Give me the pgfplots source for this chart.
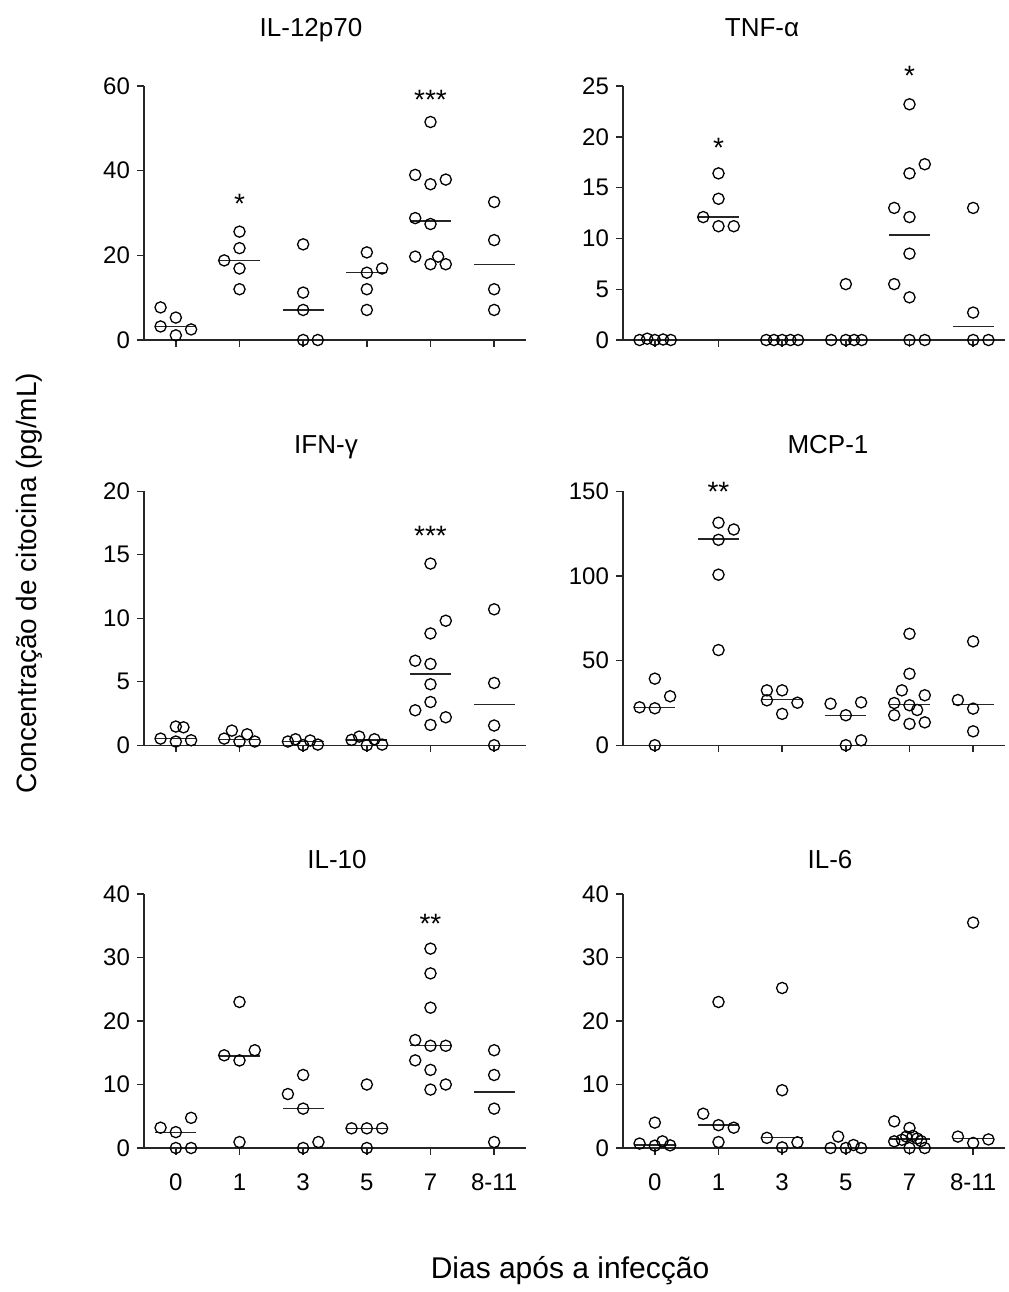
\documentclass[border=0pt]{standalone}
\usepackage{fontspec}
\setmainfont{Liberation Sans}
\usepackage{pgfplots}
\pgfplotsset{compat=1.18}

\pgfplotsset{
  panel/.style={
    scale only axis, width=191pt, height=127pt,
    anchor=south west,
    xmin=-0.5, xmax=5.5, ymin=0,
    axis x line=bottom, axis y line=left,
    axis line style={-, black!85, line width=0.7pt},
    x axis line style={shorten <=-3.5pt},
    xtick={0,...,5}, xticklabels={},
    tick align=outside, major tick length=3.5pt,
    tick style={black!85, line width=0.7pt},
    clip=false,
    ticklabel style={font=\fontsize{12}{14}\selectfont},
    xticklabel style={yshift=-6pt},
    /pgf/number format/assume math mode=true,
  },
  dots/.style={only marks, mark=o, mark size=2.8pt,
    mark options={line width=0.65pt, black}},
  med/.style={black!85, line width=0.7pt, no marks, unbounded coords=jump},
}
\tikzset{sig/.style={font=\fontsize{14}{16}\selectfont, yshift=-2.5pt}}

\begin{document}
\begin{tikzpicture}
\useasboundingbox (0pt,0pt) rectangle (504pt,-646pt);

% IL-12p70
\begin{axis}[panel, at={(72pt,-170pt)}, ymax=60, ytick={0,20,40,60}]
\addplot[dots] coordinates {
  (-0.24,7.7) (0,5.3) (-0.24,3.2) (0.24,2.5) (0,1.1)
  (1,25.6) (1,21.7) (0.76,18.8) (1,16.9) (1,12.0)
  (2,22.6) (2,11.2) (2,7.1) (2,0) (2.23,0)
  (3,20.7) (3,15.9) (3.24,16.9) (3,12.0) (3,7.1)
  (4,51.5) (3.76,39.0) (4,36.8) (4.24,37.9) (3.76,28.8) (4,27.4)
  (3.76,19.7) (4.12,19.7) (4,17.9) (4.24,17.9)
  (5,32.6) (5,23.6) (5,12.0) (5,7.1)
};
\addplot[med] coordinates {
  (-0.32,3.2) (0.32,3.2) (0.5,nan)
  (0.68,18.8) (1.32,18.8) (1.5,nan)
  (1.68,7.1) (2.32,7.1) (2.5,nan)
  (2.68,15.9) (3.32,15.9) (3.5,nan)
  (3.68,28.1) (4.32,28.1) (4.5,nan)
  (4.68,17.9) (5.32,17.9)
};
\node[sig] at (axis cs:1,33.4) {*};
\node[sig] at (axis cs:4,57.8) {***};
\end{axis}

% TNF-alpha
\begin{axis}[panel, at={(311.5pt,-170pt)}, ymax=25, ytick={0,5,...,25}]
\addplot[dots] coordinates {
  (-0.24,0) (-0.12,0.13) (0,0) (0.13,0.05) (0.25,0)
  (1,16.4) (1,13.9) (0.76,12.1) (1,11.2) (1.24,11.2)
  (1.75,0) (1.87,0) (2,0) (2.13,0) (2.25,0)
  (3,5.5) (2.77,0) (3,0) (3.13,0) (3.25,0)
  (4,23.2) (4,16.4) (4.24,17.3) (3.76,13.0) (4,12.1) (4,8.5)
  (3.76,5.5) (4,4.2) (4,0) (4.24,0)
  (5,13.0) (5,2.7) (5,0) (5.24,0)
};
\addplot[med] coordinates {
  (-0.32,0) (0.32,0) (0.5,nan)
  (0.68,12.1) (1.32,12.1) (1.5,nan)
  (1.68,0) (2.32,0) (2.5,nan)
  (2.68,0) (3.32,0) (3.5,nan)
  (3.68,10.35) (4.32,10.35) (4.5,nan)
  (4.68,1.35) (5.32,1.35)
};
\node[sig] at (axis cs:1,19.4) {*};
\node[sig] at (axis cs:4,26.5) {*};
\end{axis}

% IFN-gamma
\begin{axis}[panel, at={(72pt,-372.6pt)}, ymax=20, ytick={0,5,...,20}]
\addplot[dots] coordinates {
  (-0.24,0.52) (0,1.47) (0.12,1.41) (0,0.29) (0.24,0.39)
  (0.76,0.52) (0.88,1.15) (1.12,0.86) (1,0.29) (1.24,0.29)
  (1.76,0.29) (1.88,0.47) (2,0) (2.11,0.37) (2.23,0.05)
  (2.76,0.42) (2.88,0.68) (3,0) (3.12,0.47) (3.24,0.05)
  (4,14.3) (4.24,9.8) (4,8.8) (3.76,6.65) (4,6.4) (4,4.8)
  (4,3.4) (3.76,2.75) (4.24,2.2) (4,1.6)
  (5,10.7) (5,4.9) (5,1.55) (5,0)
};
\addplot[med] coordinates {
  (-0.32,0.52) (0.32,0.52) (0.5,nan)
  (0.68,0.45) (1.32,0.45) (1.5,nan)
  (1.68,0.3) (2.32,0.3) (2.5,nan)
  (2.68,0.4) (3.32,0.4) (3.5,nan)
  (3.68,5.6) (4.32,5.6) (4.5,nan)
  (4.68,3.2) (5.32,3.2)
};
\node[sig] at (axis cs:4,16.9) {***};
\end{axis}

% MCP-1
\begin{axis}[panel, at={(311.5pt,-372.6pt)}, ymax=150, ytick={0,50,100,150}]
\addplot[dots] coordinates {
  (0,39.3) (0.24,28.9) (-0.24,22.4) (0,21.8) (0,0)
  (1,131.4) (1.24,127.4) (1,121.3) (1,100.7) (1,56.2)
  (1.76,32.4) (2,32.4) (1.76,26.5) (2.24,25.1) (2,18.5)
  (2.76,24.5) (3.24,25.3) (3,17.7) (3.24,2.9) (3,0)
  (4,65.8) (4,42.2) (3.88,32.4) (4.24,29.5) (3.76,24.9) (4,23.6)
  (4.12,20.8) (3.76,17.7) (4,12.6) (4.24,13.5)
  (5,61.3) (4.76,26.7) (5,21.6) (5,8.2)
};
\addplot[med] coordinates {
  (-0.32,22.4) (0.32,22.4) (0.5,nan)
  (0.68,121.7) (1.32,121.7) (1.5,nan)
  (1.68,26.9) (2.32,26.9) (2.5,nan)
  (2.68,17.7) (3.32,17.7) (3.5,nan)
  (3.68,24.2) (4.32,24.2) (4.5,nan)
  (4.68,24.2) (5.32,24.2)
};
\node[sig] at (axis cs:1,152.4) {**};
\end{axis}

% IL-10
\begin{axis}[panel, at={(72pt,-574pt)}, ymax=40, ytick={0,10,...,40},
  xticklabels={0,1,3,5,7,8-11}]
\addplot[dots] coordinates {
  (-0.24,3.2) (0,2.5) (0.24,4.75) (0,0) (0.24,0)
  (1,23.0) (0.76,14.6) (1.24,15.4) (1,13.8) (1,0.94)
  (2,11.5) (1.76,8.5) (2,6.2) (2,0) (2.24,0.94)
  (3,10.0) (2.76,3.1) (3,3.1) (3.24,3.1) (3,0)
  (4,31.4) (4,27.5) (4,22.1) (3.76,17.0) (4,16.1) (4.24,16.1)
  (3.76,13.8) (4,12.3) (4,9.2) (4.24,10.0)
  (5,15.4) (5,11.5) (5,6.2) (5,0.94)
};
\addplot[med] coordinates {
  (-0.32,2.45) (0.32,2.45) (0.5,nan)
  (0.68,14.5) (1.32,14.5) (1.5,nan)
  (1.68,6.2) (2.32,6.2) (2.5,nan)
  (2.68,3.1) (3.32,3.1) (3.5,nan)
  (3.68,16.1) (4.32,16.1) (4.5,nan)
  (4.68,8.8) (5.32,8.8)
};
\node[sig] at (axis cs:4,36.1) {**};
\end{axis}

% IL-6
\begin{axis}[panel, at={(311.5pt,-574pt)}, ymax=40, ytick={0,10,...,40},
  xticklabels={0,1,3,5,7,8-11}]
\addplot[dots] coordinates {
  (0,4.0) (-0.24,0.7) (0,0.37) (0.12,1.05) (0.24,0.42)
  (1,23.0) (0.76,5.4) (1,3.6) (1.24,3.2) (1,0.94)
  (2,25.2) (2,9.1) (1.76,1.6) (2,0.1) (2.24,0.9)
  (2.88,1.8) (2.76,0) (3,0) (3.12,0.47) (3.24,0)
  (3.76,4.2) (4,3.15) (3.76,1.05) (3.88,1.3) (3.95,1.8) (4.05,1.9)
  (4.12,1.5) (4.18,1.1) (4,0) (4.24,0)
  (5,35.5) (4.76,1.8) (5,0.8) (5.24,1.35)
};
\addplot[med] coordinates {
  (-0.32,0.5) (0.32,0.5) (0.5,nan)
  (0.68,3.6) (1.32,3.6) (1.5,nan)
  (1.68,1.7) (2.32,1.7) (2.5,nan)
  (2.68,0) (3.32,0) (3.5,nan)
  (3.68,1.45) (4.32,1.45) (4.5,nan)
  (4.68,1.5) (5.32,1.5)
};
\end{axis}

% panel titles
\begin{scope}[every node/.style={font=\fontsize{13}{15}\selectfont, anchor=base}]
\node at (155.5pt,-18pt) {IL-12p70};
\node at (381pt,-18pt) {TNF-α};
\node at (163pt,-226.5pt) {IFN-γ};
\node at (414pt,-226.5pt) {MCP-1};
\node at (168.5pt,-434pt) {IL-10};
\node at (415pt,-434pt) {IL-6};
\end{scope}

% shared axis titles
\node[rotate=90, font=\fontsize{14}{16}\selectfont] at (14.5pt,-291.5pt)
  {Concentração de citocina (pg/mL)};
\node[anchor=base, font=\fontsize{15}{18}\selectfont] at (285pt,-639pt)
  {Dias após a infecção};
\end{tikzpicture}
\end{document}
